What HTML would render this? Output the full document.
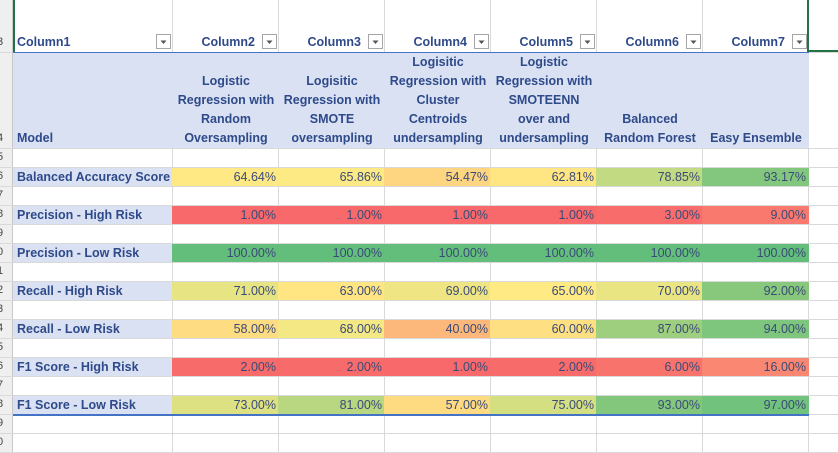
<!DOCTYPE html>
<html><head><meta charset="utf-8"><style>
body{margin:0;width:838px;height:452px;overflow:hidden;background:#fff;font-family:"Liberation Sans",sans-serif;}
#sheet{position:relative;width:838px;height:452px;}
.c{position:absolute;box-sizing:border-box;font-size:12px;color:#2F4A8A;white-space:nowrap;}
.g{position:absolute;background:#D9D9D9;}
</style></head><body>
<div id="sheet"></div>
<script>
const models=["Logistic\nRegression with\nRandom\nOversampling","Logisitic\nRegression with\nSMOTE\noversampling","Logisitic\nRegression with\nCluster\nCentroids\nundersampling","Logistic\nRegression with\nSMOTEENN\nover and\nundersampling","Balanced\nRandom Forest","Easy Ensemble"];
const colNames=["Column1","Column2","Column3","Column4","Column5","Column6","Column7"];
const metrics=["Balanced Accuracy Score","Precision - High Risk","Precision - Low Risk","Recall - High Risk","Recall - Low Risk","F1 Score - High Risk","F1 Score - Low Risk"];
const balancedAcc=[64.64,65.86,54.47,62.81,78.85,93.17];
const precHigh=[1,1,1,1,3,9];
const precLow=[100,100,100,100,100,100];
const recHigh=[71,63,69,65,70,92];
const recLow=[58,68,40,60,87,94];
const f1High=[2,2,1,2,6,16];
const f1Low=[73,81,57,75,93,97];
const series=[balancedAcc,precHigh,precLow,recHigh,recLow,f1High,f1Low];

const S=document.getElementById('sheet');
const colX=[13,173,279,385,491,597,703,809,838];
const rowY=y=>52+96+(y)*19; // row index from row5
function el(x,y,w,h,cls,name,inter){const d=document.createElement('div');d.className=cls;d.style.left=x+'px';d.style.top=y+'px';d.style.width=w+'px';d.style.height=h+'px';


S.appendChild(d);return d;}
// row header strip
const rh=el(0,0,13,452,'c','row-header-strip',false);rh.style.background='#EFEFEF';rh.style.borderRight='1px solid #C8C8C8';
// gridlines
for(let i=1;i<colX.length-1;i++){const g=el(colX[i]-1,0,1,452,'g','grid-col-line',false);}
el(0,52,838,1,'g','grid-row-line',false);el(0,148,838,1,'g','grid-row-line',false);
for(let r=1;r<=16;r++){el(0,148+r*19,838,1,'g','grid-row-line',false);}
// row numbers
const rowNums=["3","4","5","6","7","8","9","0","1","2","3","4","5","6","7","8","9","0"];
function rn(t,y,h){const d=el(0,y,13,h,'c','row-number',false);d.textContent=t;d.style.color='#444';d.style.fontSize='11px';d.style.left='-3px';d.style.lineHeight=h+'px';d.style.display='flex';d.style.alignItems='flex-end';}
rn("3",32,20);rn("4",128,20);
for(let r=0;r<14;r++){rn(["5","6","7","8","9","0","1","2","3","4","5","6","7","8"][r],148+r*19,19);} 
rn("9",414,19);rn("0",433,19);
// header row (column names)
for(let i=0;i<7;i++){const w=colX[i+1]-colX[i];const d=el(colX[i],33,w,19,'c','column-header-'+(i+1),false);
d.style.fontWeight='bold';d.style.fontSize='12.5px';d.style.lineHeight='19px';
if(i==0){d.style.paddingLeft='4px';}else{d.style.textAlign='right';d.style.paddingRight='24px';}
d.textContent=colNames[i];
const b=el(colX[i+1]-17,34,15,15,'c','filter-dropdown-'+(i+1),true);b.style.border='1px solid #A6A6A6';b.style.background='#fff';
b.innerHTML='<svg width="13" height="13"><path d="M3.5 5.5h6l-3 3.5z" fill="#555"/></svg>';}
el(13,52,796,1.5,'c','table-header-border',false).style.background='#4472C4';
el(13,414,796,1.5,'c','table-bottom-border',false).style.background='#4472C4';
const sel=el(807,0,2,52,'c','selection-border',false);sel.style.background='#217346';
const sel2=el(807,50,31,2,'c','selection-border-bottom',false);sel2.style.background='#217346';
const sel3=el(13,0,2,52,'c','selection-border-left',false);sel3.style.background='#217346';
// header row 4
const hb=el(13,53,796,95,'c','model-header-row',false);hb.style.background='#D9E1F2';
const m=el(13,129,160,19,'c','model-label',false);m.textContent='Model';m.style.fontWeight='bold';m.style.paddingLeft='4px';m.style.fontSize='12.5px';m.style.lineHeight='19px';
for(let i=0;i<6;i++){const lines=models[i].split('\n');const h=lines.length*19;const d=el(colX[i+1],148-h,colX[i+2]-colX[i+1],h,'c','model-name-'+(i+1),false);
d.style.whiteSpace='pre';d.style.textAlign='center';d.style.fontWeight='bold';d.style.fontSize='12.5px';d.style.lineHeight='19px';d.textContent=models[i];}
// color scale across whole table (Excel 3-color: min red, median yellow, max green)
const all=series.flat().slice().sort((a,b)=>a-b);
const mn=all[0],mx=all[all.length-1];const n=all.length;
const med=n%2?all[(n-1)/2]:(all[n/2-1]+all[n/2])/2;
const R=[248,105,107],Y=[255,235,132],G=[99,190,123];
function mix(a,b,t){return 'rgb('+a.map((v,k)=>Math.round(v+(b[k]-v)*t)).join(',')+')';}
function col(v){if(v<=med)return mix(R,Y,(v-mn)/(med-mn));return mix(Y,G,(v-med)/(mx-med));}
for(let r=0;r<7;r++){const y=rowY(1+r*2);
const l=el(13,y+1,160,18,'c','metric-label-'+(r+1),false);l.style.background='#D9E1F2';l.style.fontWeight='bold';l.style.fontSize='12.5px';l.style.paddingLeft='4px';l.style.lineHeight='18px';l.textContent=metrics[r];
for(let i=0;i<6;i++){const v=series[r][i];const d=el(colX[i+1]-1,y+1,colX[i+2]-colX[i+1]+1,18,'c','value-cell',false);
d.style.background=col(v);d.style.textAlign='right';d.style.paddingRight='3px';d.style.lineHeight='18px';d.style.fontSize='12.5px';d.style.color='#3A4A78';d.textContent=v.toFixed(2)+'%';}}
</script>
</body></html>
